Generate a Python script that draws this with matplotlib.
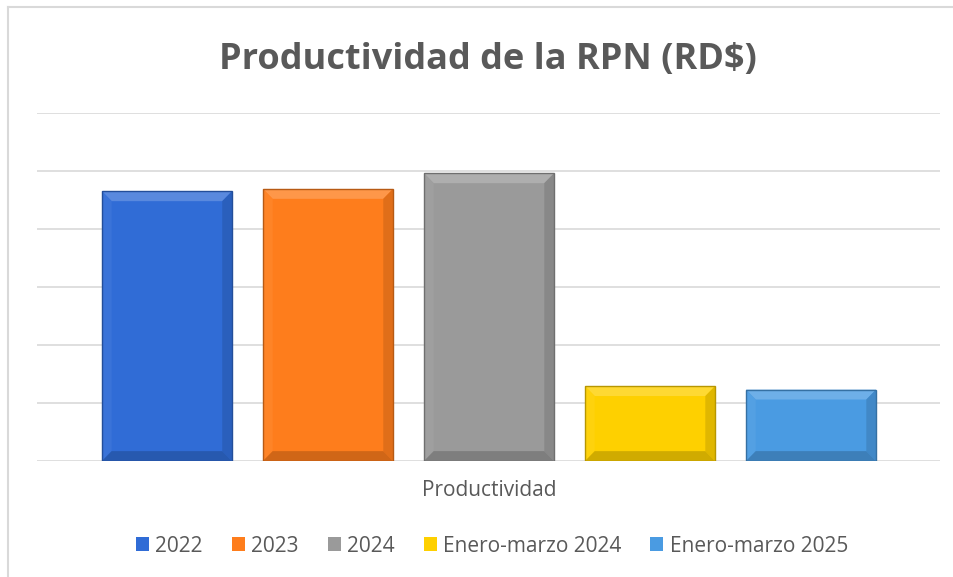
import matplotlib.pyplot as plt
from matplotlib.patches import Polygon
from matplotlib.lines import Line2D
import matplotlib.colors as mcolors

# data (gridline units, no scale shown)
series = ["2022", "2023", "2024", "Enero-marzo 2024", "Enero-marzo 2025"]
values = [4.65, 4.69, 4.96, 1.29, 1.23]
category = "Productividad"
title = "Productividad de la RPN (RD$)"

colors = ["#306cd6", "#fe7d1c", "#9a9a9a", "#fed000", "#4a9be2"]

plt.rcParams["font.family"] = ["Open Sans", "DejaVu Sans"]

fig = plt.figure(figsize=(9.54, 5.77), dpi=100)
ax = fig.add_axes([37 / 954, 1 - 461 / 577, 903 / 954, 348 / 577])

x = list(range(len(series)))
bars = ax.bar(x, values, width=0.807, color=colors, zorder=3)

def shade(c, f):
    r, g, b = mcolors.to_rgb(c)
    if f > 1:
        return (r + (1 - r) * (f - 1), g + (1 - g) * (f - 1), b + (1 - b) * (f - 1))
    return (r * f, g * f, b * f)

# bevel look on each bar
bx = 0.06
by = 0.17
for rect, c in zip(bars.patches, colors):
    x0 = rect.get_x()
    x1 = x0 + rect.get_width()
    y0 = rect.get_y()
    y1 = y0 + rect.get_height()
    faces = [
        ([(x0, y1), (x1, y1), (x1 - bx, y1 - by), (x0 + bx, y1 - by)], shade(c, 1.2)),
        ([(x0, y0), (x0, y1), (x0 + bx, y1 - by), (x0 + bx, y0 + by)], shade(c, 1.05)),
        ([(x1, y0), (x1, y1), (x1 - bx, y1 - by), (x1 - bx, y0 + by)], shade(c, 0.88)),
        ([(x0, y0), (x1, y0), (x1 - bx, y0 + by), (x0 + bx, y0 + by)], shade(c, 0.82)),
    ]
    for pts, fc in faces:
        ax.add_patch(Polygon(pts, closed=True, facecolor=fc, edgecolor="none", zorder=4))
    ax.add_patch(Polygon([(x0, y0), (x0, y1), (x1, y1), (x1, y0)], closed=True,
                         facecolor="none", edgecolor=shade(c, 0.72), lw=1, zorder=5))

ax.set_xlim(-0.807, 4.801)
ax.set_ylim(0, 6)
ax.set_yticks(range(0, 7))
ax.yaxis.grid(True, color="#d9d9d9", lw=1.2, zorder=0)
ax.tick_params(left=False, labelleft=False, bottom=False, labelbottom=False)
for s in ax.spines.values():
    s.set_visible(False)

fig.text(488 / 954, 1 - 60 / 577, title, ha="center", va="center",
         fontsize=26, fontweight="bold", color="#595959")
fig.text(489 / 954, 1 - 491 / 577, category, ha="center", va="center",
         fontsize=15, color="#595959")

handles = [bars.patches[i] for i in range(len(series))]
leg = fig.legend(handles, series, loc="center", bbox_to_anchor=(492 / 954, 1 - 546 / 577),
                 ncol=5, frameon=False, fontsize=15, handlelength=0.62, handleheight=0.62,
                 handletextpad=0.3, columnspacing=1.4, borderpad=0)
for t in leg.get_texts():
    t.set_color("#595959")

# chart border
fig.add_artist(Line2D([8 / 954, 1], [1 - 7 / 577, 1 - 7 / 577], color="#d9d9d9", lw=1.5))
fig.add_artist(Line2D([8 / 954, 8 / 954], [0, 1 - 7 / 577], color="#d9d9d9", lw=1.5))

fig.savefig("out.png", dpi=100)
